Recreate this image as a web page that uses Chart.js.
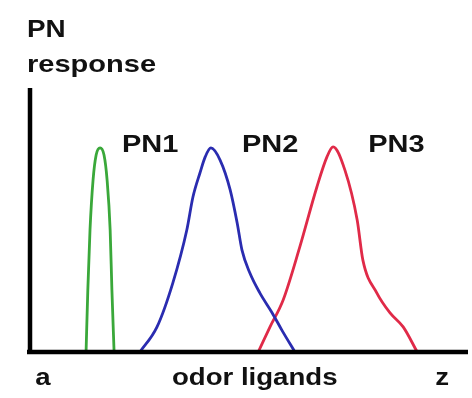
<!DOCTYPE html>
<html>
<head>
<meta charset="utf-8">
<script src="https://cdn.jsdelivr.net/npm/chart.js@4"></script>
<style>
  html, body { margin: 0; padding: 0; background: #fff; }
  #wrap { width: 472px; height: 398px; }
</style>
</head>
<body>
<div id="wrap"><canvas id="c" width="472" height="398"></canvas></div>
<script>
// Tuning curves of three projection neurons across the odor ligand axis (a → z)
const pn1X = [12.8, 13.2, 13.7, 14.4, 15.1, 16.0, 16.9, 17.6, 18.3, 18.7, 19.2];
const pn1Y = [0, 0.235, 0.462, 0.652, 0.746, 0.773, 0.746, 0.652, 0.462, 0.235, 0];

const pn2X = [25.1, 29.0, 32.6, 35.8, 37.2, 38.8, 40.0, 41.3, 43.4, 45.7, 47.3, 48.4, 50.2, 52.5, 55.3, 57.5, 60.5];
const pn2Y = [0, 0.095, 0.261, 0.462, 0.587, 0.678, 0.739, 0.773, 0.727, 0.614, 0.489, 0.386, 0.299, 0.223, 0.148, 0.083, 0];

const pn3X = [52.1, 54.8, 57.8, 61.6, 65.5, 67.8, 69.2, 71.9, 74.7, 76.0, 79.2, 82.2, 85.2, 88.4];
const pn3Y = [0, 0.095, 0.197, 0.398, 0.625, 0.739, 0.777, 0.689, 0.5, 0.348, 0.223, 0.148, 0.095, 0];

const seriesNames = ['PN1', 'PN2', 'PN3'];
const seriesColors = ['#3aa83a', '#2a2cb0', '#e02a48'];
// label anchors along the ligand axis (left edge of each name)
const labelX = [21.0, 48.4, 77.2];

const axisEnds = ['a', 'z'];
const axisTitle = 'odor ligands';
const yTitle = ['PN', 'response'];

const pts = (xs, ys) => xs.map((x, i) => ({ x: x, y: ys[i] }));

const FAMILY = '"Liberation Sans", Arial, sans-serif';

function wideText(ctx, text, x, y, size, stretch) {
  ctx.save();
  ctx.font = 'bold ' + size + 'px ' + FAMILY;
  ctx.translate(x, y);
  ctx.scale(stretch, 1);
  ctx.fillText(text, 0, 0);
  ctx.restore();
}

const decor = {
  id: 'decor',
  afterDraw(chart) {
    const ctx = chart.ctx;
    const xs = chart.scales.x, ys = chart.scales.y;
    const x0 = xs.getPixelForValue(0), x1 = xs.getPixelForValue(100);
    const y0 = ys.getPixelForValue(0), y1 = ys.getPixelForValue(1);

    // axes
    ctx.save();
    ctx.strokeStyle = '#000';
    ctx.lineWidth = 4.5;
    ctx.lineCap = 'butt';
    ctx.beginPath();
    ctx.moveTo(x0, y1);
    ctx.lineTo(x0, y0 + 2);
    ctx.moveTo(x0 - 3, y0);
    ctx.lineTo(x1, y0);
    ctx.stroke();
    ctx.restore();

    ctx.save();
    ctx.fillStyle = '#111';
    ctx.textBaseline = 'alphabetic';
    ctx.textAlign = 'left';

    // curve names
    const nameY = ys.getPixelForValue(0.773) + 4;
    seriesNames.forEach((n, i) => {
      wideText(ctx, n, xs.getPixelForValue(labelX[i]), nameY, 23, 1.26);
    });

    // x axis labels
    const by = y0 + 33;
    wideText(ctx, axisEnds[0], xs.getPixelForValue(1.2), by, 23, 1.2);
    wideText(ctx, axisTitle, xs.getPixelForValue(32.4), by, 23, 1.2);
    wideText(ctx, axisEnds[1], xs.getPixelForValue(92.5), by, 23, 1.2);

    // y axis title
    wideText(ctx, yTitle[0], x0 - 3, 37, 24, 1.16);
    wideText(ctx, yTitle[1], x0 - 3, 72, 24, 1.21);
    ctx.restore();
  }
};

new Chart(document.getElementById('c'), {
  type: 'line',
  data: {
    datasets: [
      { label: seriesNames[0], data: pts(pn1X, pn1Y), borderColor: seriesColors[0] },
      { label: seriesNames[1], data: pts(pn2X, pn2Y), borderColor: seriesColors[1] },
      { label: seriesNames[2], data: pts(pn3X, pn3Y), borderColor: seriesColors[2] }
    ]
  },
  options: {
    responsive: false,
    animation: false,
    layout: { padding: { left: 30, right: 4, top: 88, bottom: 46 } },
    elements: {
      line: { borderWidth: 2.8, cubicInterpolationMode: 'monotone', fill: false },
      point: { radius: 0 }
    },
    plugins: { legend: { display: false }, tooltip: { enabled: false } },
    scales: {
      x: { type: 'linear', min: 0, max: 100, display: false },
      y: { type: 'linear', min: 0, max: 1, display: false }
    }
  },
  plugins: [decor]
});
</script>
</body>
</html>
